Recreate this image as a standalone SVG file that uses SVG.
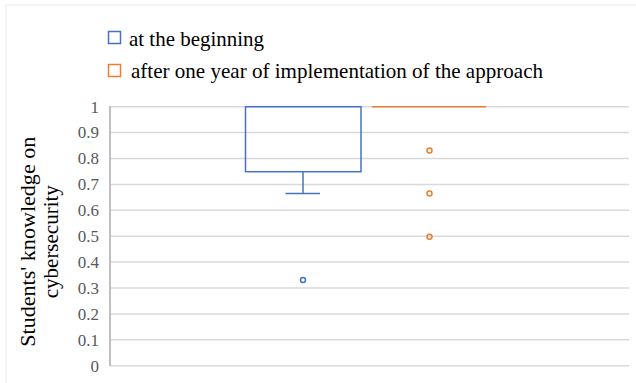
<svg xmlns="http://www.w3.org/2000/svg" width="636" height="383" viewBox="0 0 636 383">
<style>
.grid{stroke:#d9d9d9;stroke-width:1.5;fill:none}
.axis{stroke:#bfbfbf;stroke-width:2;fill:none}
.tick{font-family:'Liberation Serif','Times New Roman',serif;font-size:17px;fill:#595959;text-anchor:end}
.leg{font-family:'Liberation Serif','Times New Roman',serif;font-size:21px;fill:#000}
.title{font-family:'Liberation Serif','Times New Roman',serif;font-size:21px;fill:#000;text-anchor:middle}
.blue{stroke:#4472c4;stroke-width:1.5;fill:none}
.orange{stroke:#ed7d31;stroke-width:1.5;fill:none}
</style>
<rect x="0" y="0" width="636" height="383" fill="#fff"/>
<rect x="6" y="5" width="640" height="400" fill="none" stroke="#ececec" stroke-width="1"/>
<g id="legend">
<rect x="108.5" y="31.5" width="12" height="12" class="blue"/>
<text x="129" y="46" class="leg" textLength="135" lengthAdjust="spacingAndGlyphs">at the beginning</text>
<rect x="108.5" y="64.5" width="12" height="12" class="orange"/>
<text x="131" y="78" class="leg" textLength="412" lengthAdjust="spacingAndGlyphs">after one year of implementation of the approach</text>
</g>
<g id="grid">
<line x1="110" y1="106.7" x2="629" y2="106.7" class="grid"/>
<line x1="110" y1="132.6" x2="629" y2="132.6" class="grid"/>
<line x1="110" y1="158.5" x2="629" y2="158.5" class="grid"/>
<line x1="110" y1="184.4" x2="629" y2="184.4" class="grid"/>
<line x1="110" y1="210.3" x2="629" y2="210.3" class="grid"/>
<line x1="110" y1="236.2" x2="629" y2="236.2" class="grid"/>
<line x1="110" y1="262.1" x2="629" y2="262.1" class="grid"/>
<line x1="110" y1="288.0" x2="629" y2="288.0" class="grid"/>
<line x1="110" y1="313.9" x2="629" y2="313.9" class="grid"/>
<line x1="110" y1="339.8" x2="629" y2="339.8" class="grid"/>
<line x1="110" y1="365.7" x2="629" y2="365.7" class="grid"/>
<line x1="110" y1="106" x2="110" y2="366" class="axis"/>
</g>
<g id="ticks">
<text x="99" y="112.5" class="tick">1</text>
<text x="99" y="138.4" class="tick">0.9</text>
<text x="99" y="164.3" class="tick">0.8</text>
<text x="99" y="190.2" class="tick">0.7</text>
<text x="99" y="216.1" class="tick">0.6</text>
<text x="99" y="242" class="tick">0.5</text>
<text x="99" y="267.9" class="tick">0.4</text>
<text x="99" y="293.8" class="tick">0.3</text>
<text x="99" y="319.7" class="tick">0.2</text>
<text x="99" y="345.6" class="tick">0.1</text>
<text x="99" y="371.5" class="tick">0</text>
</g>
<g id="ytitle">
<text transform="translate(35,241.7) rotate(-90)" class="title" textLength="210" lengthAdjust="spacingAndGlyphs">Students' knowledge on</text>
<text transform="translate(57.5,241.7) rotate(-90)" class="title">cybersecurity</text>
</g>
<g id="series1">
<rect x="245.5" y="106.7" width="115.5" height="65" class="blue"/>
<line x1="303" y1="171.7" x2="303" y2="193.5" class="blue"/>
<line x1="285.5" y1="193.5" x2="320" y2="193.5" class="blue"/>
<circle cx="303" cy="280" r="2.5" class="blue"/>
</g>
<g id="series2">
<line x1="372" y1="106.7" x2="486" y2="106.7" class="orange" stroke-width="2"/>
<circle cx="429.5" cy="150.5" r="2.5" class="orange"/>
<circle cx="429.5" cy="193.5" r="2.5" class="orange"/>
<circle cx="429.5" cy="236.7" r="2.5" class="orange"/>
</g>
</svg>
